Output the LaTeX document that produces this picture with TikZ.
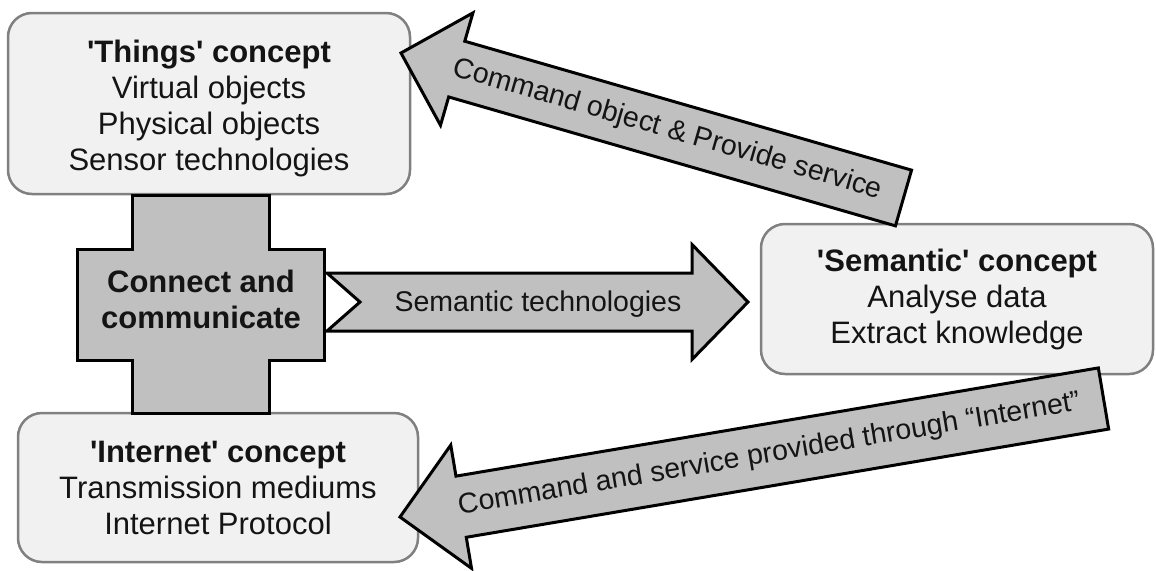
\documentclass[tikz,border=0pt]{standalone}
\usepackage{fontspec}
\setmainfont{Liberation Sans}[Ligatures=TeXOff]
\usetikzlibrary{calc}

\definecolor{boxfill}{HTML}{F1F1F1}
\definecolor{boxline}{HTML}{808080}
\definecolor{blockfill}{HTML}{C0C0C0}
\definecolor{ink}{HTML}{141414}

\tikzset{
  concept/.style={draw=boxline, fill=boxfill, line width=2.5pt, rounded corners=24pt,
    inner sep=0pt, align=center, text=ink, font=\fontsize{31}{36}\selectfont},
  blockshape/.style={draw=black, fill=blockfill, line width=3pt, line join=miter},
  arrowtext/.style={text=ink, inner sep=0pt, font=\fontsize{28.5}{34}\selectfont},
  hubtext/.style={text=ink, inner sep=0pt, align=center, font=\fontsize{31}{36}\selectfont\bfseries},
}

% block arrow: #1 tail, #2 tip, #3 shaft half-width, #4 head half-width,
% #5 head length, #6 tail notch depth
\newcommand\blockarrow[6]{%
  \coordinate (ba-base) at ($(#2)!#5!(#1)$);
  \coordinate (ba-notch) at ($(#1)!#6!(#2)$);
  \draw[blockshape] ($(#1)!#3!90:(#2)$) -- ($(ba-base)!#3!90:(#2)$)
    -- ($(ba-base)!#4!90:(#2)$) -- (#2) -- ($(ba-base)!#4!-90:(#2)$)
    -- ($(ba-base)!#3!-90:(#2)$) -- ($(#1)!#3!-90:(#2)$) -- (ba-notch) -- cycle;
}

\begin{document}
\begin{tikzpicture}[x=1pt, y=-1pt]
\useasboundingbox (0,0) rectangle (1156,570);

% concept boxes
\node[concept, minimum width=402pt, minimum height=181pt] (things) at (209,103.5)
  {\rule{0pt}{32pt}\textbf{'Things' concept}\\Virtual objects\\Physical objects\\Sensor technologies};
\node[concept, minimum width=392pt, minimum height=150pt] (semantic) at (957,299)
  {\textbf{'Semantic' concept}\\Analyse data\\Extract knowledge};
\node[concept, minimum width=400pt, minimum height=149pt] (internet) at (218,487.5)
  {\textbf{'Internet' concept}\\Transmission mediums\\Internet Protocol};

% central cross
\draw[blockshape] (132,195) -- (269,195) -- (269,249) -- (324,249) -- (324,360)
  -- (269,360) -- (269,413) -- (132,413) -- (132,360) -- (77,360) -- (77,249)
  -- (132,249) -- cycle;
\node[hubtext] (hub) at (201,299) {Connect and\\communicate};

% arrow ends
\coordinate (semTail) at (327,302);
\coordinate (semTip) at (748,302);
\coordinate (upTail) at (903.5,198);
\coordinate (upTip) at (401,53);
\coordinate (lowTail) at (1103.5,398.5);
\coordinate (lowTip) at (400,517);

% semantic technologies
\blockarrow{semTail}{semTip}{29pt}{57.5pt}{56pt}{33pt}
\node[arrowtext] (semLabel) at (538,304) {Semantic technologies};

% back to the things
\blockarrow{upTail}{upTip}{29pt}{58.5pt}{58pt}{0pt}
\path (upTip) -- (upTail) node[arrowtext, sloped, pos=0.53] (upLabel)
  {Command object \& Provide service};

% back to the internet
\blockarrow{lowTail}{lowTip}{31pt}{62.5pt}{62pt}{0pt}
\path (lowTip) -- (lowTail) node[arrowtext, sloped, pos=0.525] (lowLabel)
  {Command and service provided through “Internet”};
\end{tikzpicture}
\end{document}
